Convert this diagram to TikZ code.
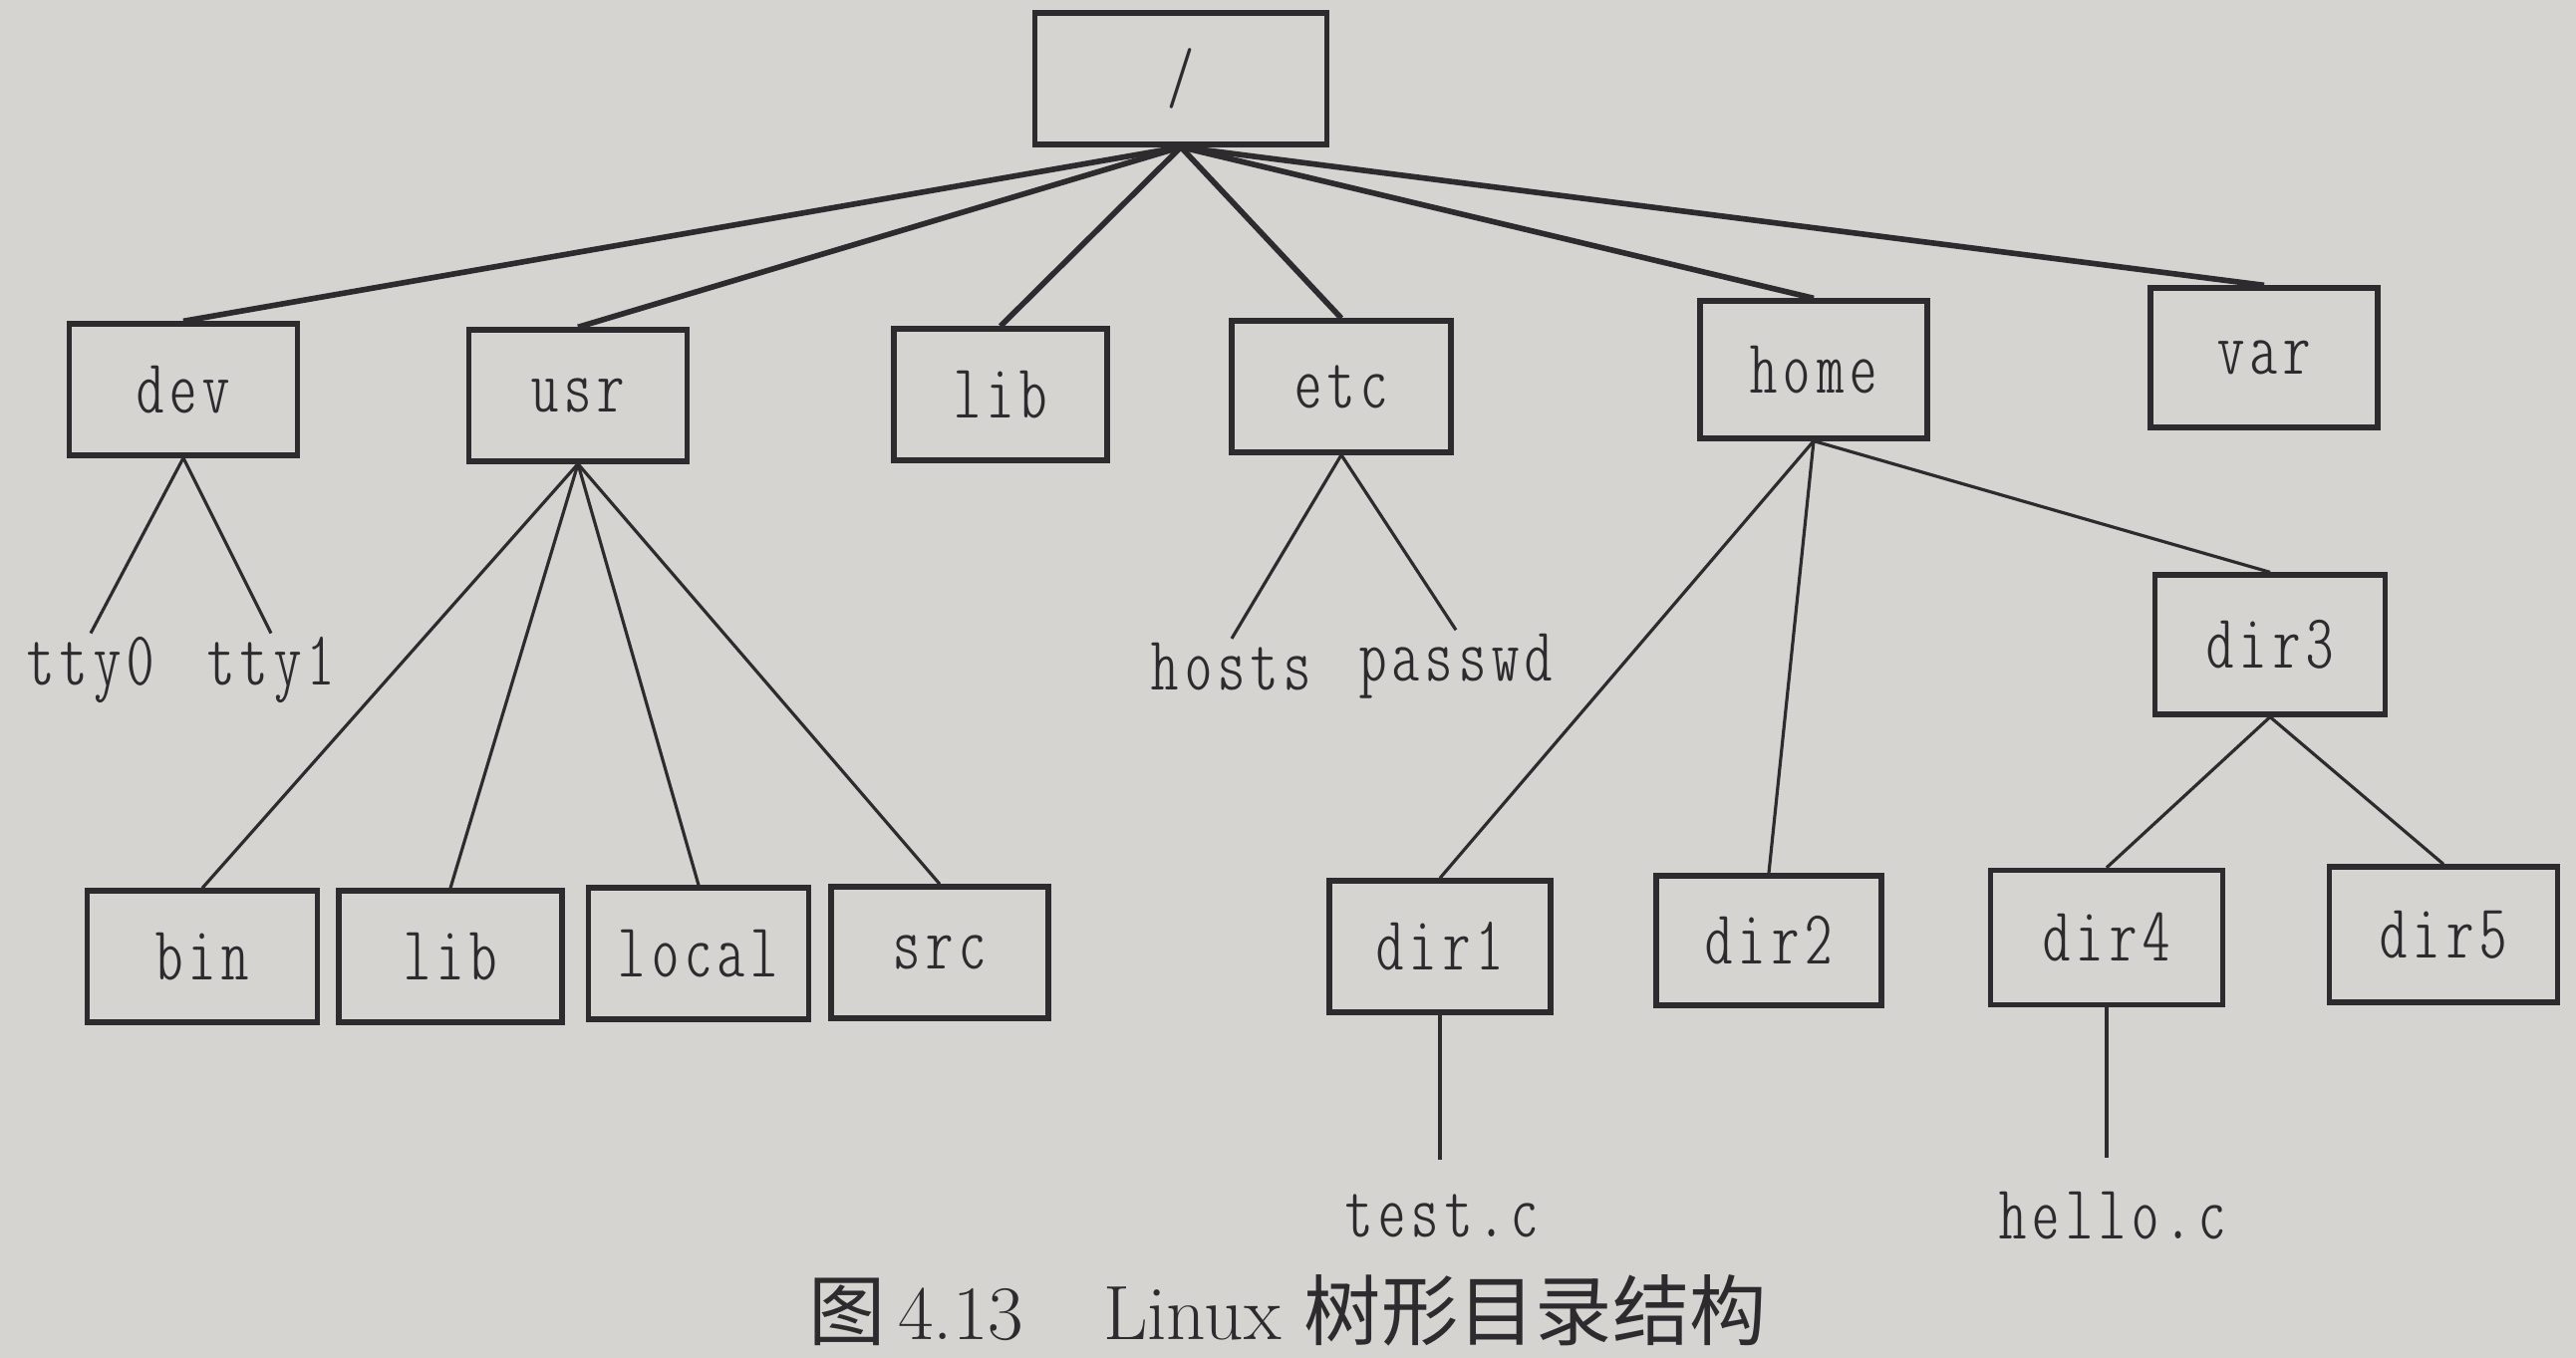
\documentclass[tikz,border=0pt]{standalone}
\usepackage{fontspec}
\newfontfamily\cjk{Noto Sans CJK SC}
\newfontfamily\dirfont{lmmonoltcond10-regular.otf}[LetterSpace=8]
\definecolor{paper}{RGB}{214,212,209}
\definecolor{ink}{RGB}{45,43,45}
\newcommand{\fn}{\fontsize{22}{24}\dirfont}

\begin{document}
\begin{tikzpicture}[
  box/.style={draw=ink,line width=1.5pt,minimum width=2.25cm,minimum height=1.32cm,text=ink,font=\fn},
  leaf/.style={text=ink,font=\fn,inner sep=1pt},
  up/.style={draw=ink,line width=1.6pt},
  down/.style={draw=ink,line width=0.9pt}]
\fill[paper] (0,0) rectangle (25.85,13.63);
\useasboundingbox (0,0) rectangle (25.85,13.63);
% root and first level
\node[box,minimum width=2.93cm] (root) at (11.85,12.84) {/};
\node[box,minimum width=2.29cm] (dev) at (1.84,9.72) {dev};
\node[box,minimum width=2.19cm] (usr) at (5.80,9.66) {usr};
\node[box,minimum width=2.14cm] (lib) at (10.04,9.67) {lib};
\node[box,minimum width=2.20cm] (etc) at (13.46,9.75) {etc};
\node[box,minimum width=2.28cm,minimum height=1.38cm] (home) at (18.20,9.92) {home};
\node[box,minimum width=2.28cm,minimum height=1.40cm] (var) at (22.72,10.04) {var};
\foreach \n in {dev,usr,lib,etc,home,var}
{
    \draw[up] (root.south) -- (\n.north);
}
% dev and etc
\node[leaf] (tty0) at (0.91,6.90) {tty0};
\node[leaf] (tty1) at (2.72,6.90) {tty1};
\node[leaf] (hosts) at (12.36,6.94) {hosts};
\node[leaf] (passwd) at (14.61,6.94) {passwd};
\foreach \p/\c in {dev/tty0,dev/tty1,etc/hosts,etc/passwd}
{
    \draw[down] (\p.south) -- (\c.north);
}
% usr
\node[box,minimum width=2.31cm] (bin) at (2.03,4.03) {bin};
\node[box,minimum width=2.24cm] (ulib) at (4.52,4.03) {lib};
\node[box,minimum width=2.21cm] (local) at (7.01,4.06) {local};
\node[box,minimum width=2.18cm] (src) at (9.43,4.07) {src};
\foreach \c in {bin,ulib,local,src}
{
    \draw[down] (usr.south) -- (\c.north);
}
% home
\node[box,minimum width=2.31cm,minimum height=1.40cm] (dir3) at (22.78,7.16) {dir3};
\node[box,minimum width=2.22cm] (dir1) at (14.45,4.13) {dir1};
\node[box,minimum width=2.26cm,minimum height=1.30cm] (dir2) at (17.75,4.19) {dir2};
\node[box,minimum width=2.33cm,minimum height=1.35cm] (dir4) at (21.14,4.22) {dir4};
\node[box,minimum width=2.29cm,minimum height=1.36cm] (dir5) at (24.52,4.25) {dir5};
\foreach \p/\c in {home/dir1,home/dir2,home/dir3,dir3/dir4,dir3/dir5}
{
    \draw[down] (\p.south) -- (\c.north);
}
\node[leaf] (test) at (14.47,1.43) {test.c};
\node[leaf] (hello) at (21.20,1.43) {hello.c};
\draw[down,shorten >=0.3cm] (dir1.south) -- (dir1.south |- test.north);
\draw[down,shorten >=0.3cm] (dir4.south) -- (dir4.south |- hello.north);
% caption
\node[text=ink,font=\fontsize{22}{24}\selectfont] (cap) at (12.92,0.48)
    {{\cjk 图}\,4.13\hspace{0.8cm}Linux {\cjk 树形目录结构}};
\end{tikzpicture}
\end{document}
